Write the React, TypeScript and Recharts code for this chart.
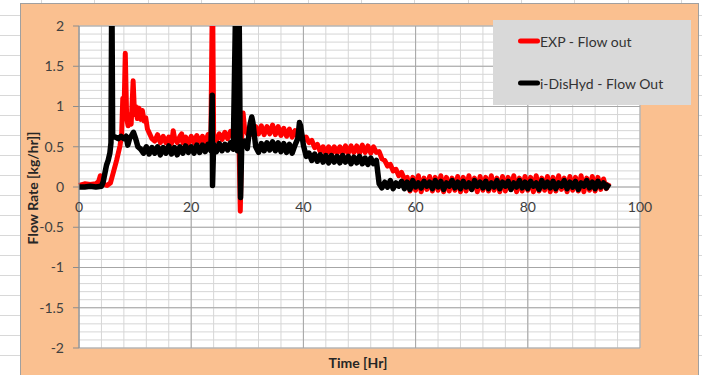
import React from 'react';
import { LineChart, Line, XAxis, YAxis, CartesianGrid } from 'recharts';

// ---------- data ----------
const SAMPLE_STEP = 0.5; // hours between regularly read samples

// EXP - Flow out (red)
const expStartup: [number, number][] = [
  [0, 0.02], [1, 0.04], [2, 0.03], [3, 0.04], [3.5, 0.07], [3.8, 0.14], [4.1, 0.05], [4.5, 0.03],
  [5, 0.02], [5.6, 0.05], [6.0, 0.15], [6.7, 0.33], [7.3, 0.51], [7.6, 0.65], [7.8, 1.1], [8.0, 0.85],
  [8.25, 1.66], [8.5, 0.85], [8.75, 0.76], [9.0, 0.9], [9.3, 0.78], [9.65, 1.32], [9.9, 0.9],
  [10.1, 1.0], [10.4, 0.85], [10.7, 0.98], [11.0, 0.84], [11.3, 0.95], [11.6, 0.82], [11.9, 0.86],
  [12.2, 0.72], [12.6, 0.66], [13, 0.6],
];
const expBodyStart = 13.5;
const expBody = [
  0.57, 0.65, 0.55, 0.63, 0.55, 0.62, 0.54, 0.62, 0.55, 0.63,
  0.55, 0.62, 0.54, 0.63, 0.55, 0.64, 0.56, 0.63, 0.55, 0.65,
  0.57, 0.62, 0.58, 0.66, 0.59, 0.68, 0.6, 0.69, 0.62, 0.7,
  0.64, 0.6, 0.74, 0.66, 0.76, 0.65, 0.75, 0.66, 0.76, 0.65,
  0.75, 0.66, 0.77, 0.65, 0.75, 0.64, 0.73, 0.63, 0.72, 0.62,
  0.7, 0.62, 0.7, 0.58, 0.62, 0.55, 0.58, 0.49, 0.53, 0.44,
  0.5, 0.41, 0.5, 0.41, 0.5, 0.42, 0.5, 0.41, 0.51, 0.42,
  0.51, 0.43, 0.51, 0.42, 0.52, 0.43, 0.51, 0.42, 0.5, 0.43,
  0.44, 0.35, 0.33, 0.26, 0.28, 0.2, 0.22, 0.14, 0.18, 0.1, 0.12,
];
const expTailStart = 59;
const expTail = [
  -0.05, 0.12, -0.04, 0.14, -0.06, 0.11, -0.03, 0.13, -0.05, 0.12,
  -0.04, 0.14, -0.06, 0.12, -0.05, 0.11, -0.04, 0.13, -0.06, 0.12,
  -0.05, 0.14, -0.03, 0.11, -0.06, 0.13, -0.04, 0.12, -0.05, 0.14,
  -0.04, 0.11, -0.06, 0.13, -0.05, 0.12, -0.03, 0.14, -0.06, 0.11,
  -0.05, 0.13, -0.04, 0.12, -0.06, 0.14, -0.05, 0.11, -0.04, 0.13,
  -0.06, 0.12, -0.05, 0.14, -0.03, 0.11, -0.06, 0.13, -0.04, 0.12,
  -0.05, 0.14, -0.06, 0.11, -0.04, 0.13, -0.05, 0.12, -0.03, 0.1, -0.02, 0.05,
];
const expSpikes: [number, number][] = [
  [16.8, 0.7], [18.3, 0.66], [23.8, 2.6], [28.75, -0.3], [29.25, 0.92],
];

// i-DisHyd - Flow Out (black)
const disStartup: [number, number][] = [
  [0, 0.0], [1, 0.0], [2, 0.01], [3, 0.0], [4, 0.01], [4.3, 0.06], [4.7, 0.2], [4.9, 0.27],
  [5.2, 0.33], [5.5, 0.42], [5.7, 0.55], [5.85, 2.6], [6.0, 0.62], [6.5, 0.62], [7, 0.6],
  [7.5, 0.63], [8, 0.6], [8.4, 0.63], [8.7, 0.52], [9.0, 0.6], [9.3, 0.63], [9.7, 0.68],
  [10.1, 0.6], [10.5, 0.5], [11, 0.47],
];
const disBodyStart = 11.5;
const disBody = [
  0.42, 0.5, 0.41, 0.49, 0.42, 0.5, 0.4, 0.49, 0.42, 0.51,
  0.41, 0.49, 0.4, 0.5, 0.42, 0.51, 0.43, 0.5, 0.42, 0.52,
  0.43, 0.52, 0.44, 0.53, 0.45, 0.53, 0.44, 0.54, 0.45, 0.53,
  0.46, 0.55, 0.47, 2.6, 2.6, 0.49, 0.57, 0.48, 0.78, 0.8,
  0.5, 0.43, 0.54, 0.45, 0.55, 0.46, 0.56, 0.45, 0.55, 0.44,
  0.54, 0.43, 0.53, 0.42, 0.52, 0.6, 0.76, 0.52, 0.38, 0.42,
  0.33, 0.41, 0.32, 0.4, 0.31, 0.39, 0.3, 0.39, 0.31, 0.38,
  0.3, 0.39, 0.31, 0.38, 0.29, 0.37, 0.3, 0.38, 0.29, 0.36,
  0.28, 0.36, 0.29, 0.33, 0.04,
];
const disTailStart = 54;
const disTail = [
  -0.01, 0.06, 0.0, 0.08, -0.02, 0.05, 0.01, 0.07, -0.02, 0.06,
  -0.03, 0.08, 0.0, 0.05, -0.01, 0.07, 0.01, 0.06, -0.02, 0.08,
  0.0, 0.07, -0.03, 0.05, 0.01, 0.08, -0.01, 0.06, -0.02, 0.07,
  0.0, 0.05, -0.03, 0.08, 0.01, 0.06, -0.01, 0.07, -0.02, 0.05,
  0.0, 0.08, -0.02, 0.06, 0.01, 0.07, -0.03, 0.05, 0.0, 0.08,
  -0.01, 0.06, -0.02, 0.07, 0.01, 0.05, -0.03, 0.08, 0.0, 0.06,
  -0.01, 0.07, -0.02, 0.05, 0.01, 0.08, -0.02, 0.06, 0.0, 0.07,
  -0.03, 0.05, 0.01, 0.08, -0.01, 0.06, -0.02, 0.07, 0.0, 0.05,
  -0.01, 0.04,
];
const disSpikes: [number, number][] = [
  [23.75, 1.14], [23.8, 0.02], [28.25, 0.45], [28.8, -0.13], [30.8, 0.87], [39.3, 0.8],
];

// axes
const xTicks = [0, 20, 40, 60, 80, 100];
const xMinorGrid = [0, 4, 8, 12, 16, 20, 24, 28, 32, 36, 40, 44, 48, 52, 56, 60, 64, 68, 72, 76, 80, 84, 88, 92, 96, 100];
const yTicks = [-2, -1.5, -1, -0.5, 0, 0.5, 1, 1.5, 2];
const yMinorGrid = [
  -2, -1.9, -1.8, -1.7, -1.6, -1.5, -1.4, -1.3, -1.2, -1.1, -1, -0.9, -0.8, -0.7, -0.6, -0.5, -0.4, -0.3, -0.2, -0.1,
  0, 0.1, 0.2, 0.3, 0.4, 0.5, 0.6, 0.7, 0.8, 0.9, 1, 1.1, 1.2, 1.3, 1.4, 1.5, 1.6, 1.7, 1.8, 1.9, 2,
];
const seriesNames = ['EXP - Flow out', 'i-DisHyd - Flow Out'];
const seriesColors = ['#FF0000', '#000000'];
const xTitle = 'Time [Hr]';
const yTitle = 'Flow Rate [kg/hr]]';

// ---------- build ----------
type Pt = { t: number; v: number };
function buildSeries(
  startup: [number, number][],
  bodyStart: number,
  body: number[],
  tailStart: number,
  tail: number[],
  spikes: [number, number][],
): Pt[] {
  const pts: Pt[] = [
    ...startup.map(([t, v]) => ({ t, v })),
    ...body.map((v, i) => ({ t: bodyStart + i * SAMPLE_STEP, v })),
    ...tail.map((v, i) => ({ t: tailStart + i * SAMPLE_STEP, v })),
    ...spikes.map(([t, v]) => ({ t, v })),
  ];
  pts.sort((a, b) => a.t - b.t);
  return pts;
}
const expData = buildSeries(expStartup, expBodyStart, expBody, expTailStart, expTail, expSpikes);
const disData = buildSeries(disStartup, disBodyStart, disBody, disTailStart, disTail, disSpikes);

// ---------- layout ----------
const FONT = "Lato, 'Open Sans', 'Liberation Sans', sans-serif";
const TEXT = '#404040';
const CHART_W = 677;
const CHART_H = 368;
const M_TOP = 22;
const M_RIGHT = 58;
const X_AXIS_H = 1;
const M_BOTTOM = 24 - X_AXIS_H;
const Y_AXIS_W = 58;
const PLOT_H = CHART_H - M_TOP - M_BOTTOM - X_AXIS_H;
const Y_MIN = -2;
const Y_MAX = 2;
const X_MIN = 0;
const X_MAX = 100;

const hGen = (vals: number[]) => (args: any) => {
  const s = args?.yAxis?.scale;
  const off = args.offset;
  return vals.map((v) =>
    typeof s === 'function' ? s(v) : off.top + ((Y_MAX - v) / (Y_MAX - Y_MIN)) * off.height,
  );
};
const vGen = (vals: number[]) => (args: any) => {
  const s = args?.xAxis?.scale;
  const off = args.offset;
  return vals.map((v) =>
    typeof s === 'function' ? s(v) : off.left + ((v - X_MIN) / (X_MAX - X_MIN)) * off.width,
  );
};

const XTick = (props: any) => {
  const { x, payload } = props;
  const zeroY = M_TOP + (PLOT_H * (Y_MAX - 0)) / (Y_MAX - Y_MIN);
  return (
    <text x={x} y={zeroY + 25} textAnchor="middle" fill={TEXT} fontSize={14} fontFamily={FONT}>
      {payload.value}
    </text>
  );
};

export default function App() {
  return (
    <div
      style={{
        position: 'absolute',
        left: 0,
        top: 0,
        width: 702,
        height: 375,
        overflow: 'hidden',
        background: '#fff',
        backgroundImage:
          'repeating-linear-gradient(90deg, transparent 0px, transparent 41px, #D8D8D8 41px, #D8D8D8 42px, transparent 42px, transparent 53.33px), repeating-linear-gradient(0deg, transparent 0px, transparent 19px, #D8D8D8 19px, #D8D8D8 20px)',
      }}
    >
      <div
        style={{
          position: 'absolute',
          left: 20,
          top: 3,
          width: CHART_W,
          height: CHART_H + 10,
          background: '#FAC090',
          border: '1px solid #A0A0A0',
        }}
      >
        <LineChart
          width={CHART_W}
          height={CHART_H}
          margin={{ top: M_TOP, right: M_RIGHT, bottom: M_BOTTOM, left: 0 }}
        >
          <CartesianGrid
            stroke="#D6D6D6"
            fill="#FFFFFF"
            fillOpacity={1}
            horizontalCoordinatesGenerator={hGen(yMinorGrid)}
            verticalCoordinatesGenerator={vGen(xMinorGrid)}
          />
          <CartesianGrid
            stroke="#A6A6A6"
            horizontalCoordinatesGenerator={hGen(yTicks)}
            verticalCoordinatesGenerator={vGen(xTicks)}
          />
          <XAxis
            type="number"
            dataKey="t"
            domain={[X_MIN, X_MAX]}
            ticks={xTicks}
            axisLine={false}
            tickLine={false}
            height={X_AXIS_H}
            tick={<XTick />}
            interval={0}
          />
          <YAxis
            type="number"
            dataKey="v"
            domain={[Y_MIN, Y_MAX]}
            allowDataOverflow
            ticks={yTicks}
            width={Y_AXIS_W}
            interval={0}
            tickSize={6}
            tickMargin={9}
            axisLine={{ stroke: '#8C8C8C' }}
            tickLine={{ stroke: '#8C8C8C' }}
            tick={{ fill: TEXT, fontSize: 14, fontFamily: FONT }}
          />
          <Line
            data={expData}
            dataKey="v"
            name={seriesNames[0]}
            type="linear"
            stroke={seriesColors[0]}
            strokeWidth={5}
            strokeLinejoin="round"
            dot={false}
            activeDot={false}
            isAnimationActive={false}
          />
          <Line
            data={disData}
            dataKey="v"
            name={seriesNames[1]}
            type="linear"
            stroke={seriesColors[1]}
            strokeWidth={5.5}
            strokeLinejoin="round"
            dot={false}
            activeDot={false}
            isAnimationActive={false}
          />
        </LineChart>
      </div>

      {/* Y axis title */}
      <div
        style={{
          position: 'absolute',
          left: 32,
          top: 188,
          transform: 'translate(-50%, -50%) rotate(-90deg)',
          whiteSpace: 'nowrap',
          fontFamily: FONT,
          fontWeight: 700,
          fontSize: 14,
          color: '#262626',
        }}
      >
        {yTitle}
      </div>
      {/* X axis title */}
      <div
        style={{
          position: 'absolute',
          left: 358,
          top: 362,
          transform: 'translate(-50%, -50%)',
          whiteSpace: 'nowrap',
          fontFamily: FONT,
          fontWeight: 700,
          fontSize: 14,
          color: '#262626',
        }}
      >
        {xTitle}
      </div>

      {/* Legend */}
      <div
        style={{
          position: 'absolute',
          left: 493,
          top: 20,
          width: 198,
          height: 85,
          background: '#D9D9D9',
          fontFamily: FONT,
          fontSize: 14,
          color: '#333',
        }}
      >
        {seriesNames.map((name, i) => (
          <div
            key={name}
            style={{
              position: 'absolute',
              left: 25,
              top: i === 0 ? 11 : 53,
              height: 20,
              display: 'flex',
              alignItems: 'center',
              whiteSpace: 'nowrap',
            }}
          >
            <svg width={22} height={8} style={{ display: 'block' }}>
              <line x1={2.5} y1={4} x2={19.5} y2={4} stroke={seriesColors[i]} strokeWidth={5} strokeLinecap="round" />
            </svg>
            <span>{name}</span>
          </div>
        ))}
      </div>
    </div>
  );
}
